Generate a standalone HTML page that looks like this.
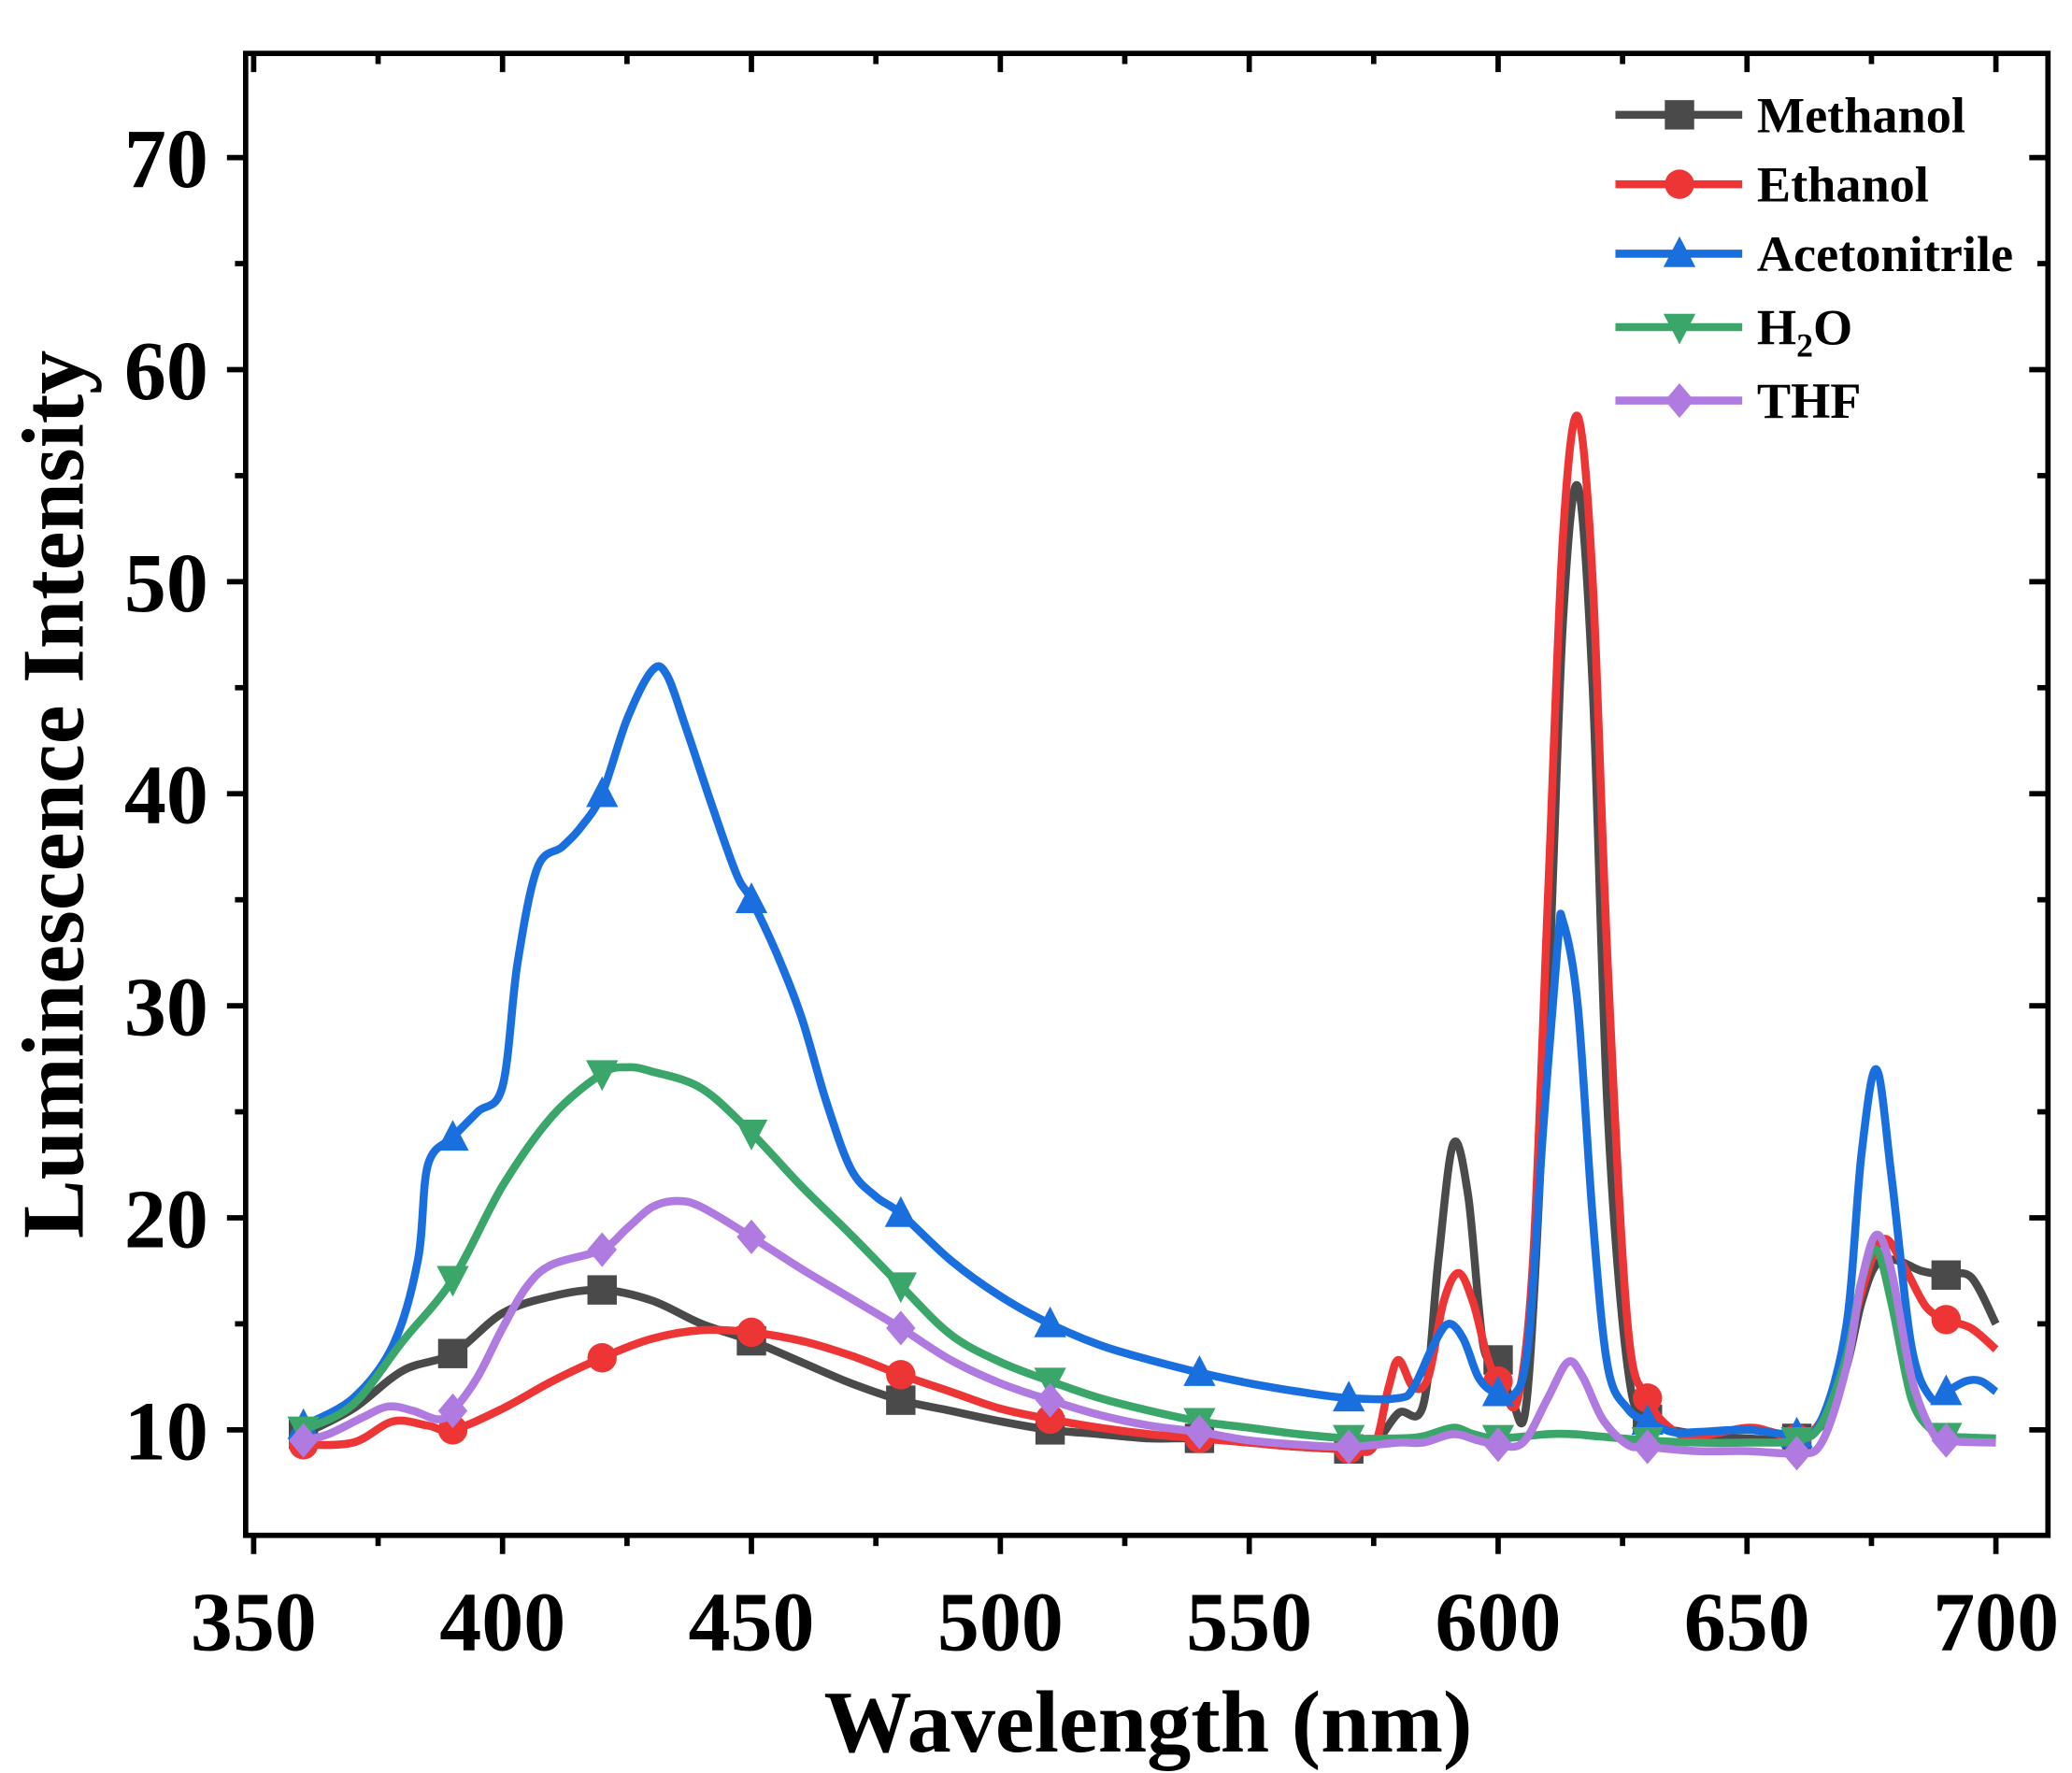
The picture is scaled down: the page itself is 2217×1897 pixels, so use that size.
<!DOCTYPE html>
<html><head><meta charset="utf-8"><style>
html,body{margin:0;padding:0;background:#fff;}
svg{display:block;}
text{font-family:"Liberation Serif",serif;font-weight:bold;fill:#000;}
</style></head><body>
<svg id="s" width="2217" height="1897" viewBox="0 0 1552 1328" preserveAspectRatio="none" xmlns="http://www.w3.org/2000/svg"></svg>
<script>
const S=document.getElementById('s');
const X=v=>190+(v-350)*3.7286, Y=v=>1071-(v-10)*15.883;
let h='';
function P(s){return s.trim().split(/,\s*/).map(p=>p.trim().split(/\s+/).map(Number));}
const series=[
['#4a4a4a','sq',P(`360 9.8, 370 11, 380 12.8, 390 13.6, 400 15.5, 410 16.3, 420 16.6, 430 16.1, 440 15, 450 14.2, 460 13.2, 470 12.2, 480 11.4, 490 10.9, 500 10.4, 510 10, 520 9.8, 530 9.6, 540 9.6, 550 9.4, 560 9.2, 570 9.1, 575 9.3, 580 10.8, 585 11.2, 588 18, 591 23.5, 594 21, 597 14, 600 13.3, 603 11.2, 606 12, 610 30, 613 48, 616 54.5, 619 45, 622 25, 626 13, 630 10.5, 640 9.8, 650 9.6, 660 9.6, 666 10.5, 670 13, 673 16, 676 17.8, 680 18, 685 17.5, 690 17.3, 695 17.2, 700 15`)],
['#ee3535','ci',P(`360 9.3, 370 9.4, 378 10.4, 385 10.2, 390 10, 400 11, 410 12.3, 420 13.4, 430 14.3, 440 14.7, 450 14.6, 460 14.2, 470 13.5, 480 12.6, 490 11.8, 500 11, 510 10.5, 520 10.1, 530 9.8, 540 9.6, 550 9.4, 560 9.2, 570 9.1, 575 9.2, 578 12, 580 13.3, 583 12, 586 12.5, 589 16, 592 17.4, 595 16, 598 13.3, 601 11.8, 604 11.5, 607 18, 610 35, 613 52, 616 57.8, 619 50, 622 32, 626 15, 630 11.5, 635 10, 640 9.7, 650 10.1, 655 9.9, 660 9.6, 665 10.5, 670 14, 675 18, 678 19, 682 17.5, 686 15.8, 690 15.2, 695 14.8, 700 13.8`)],
['#1a6fdf','tu',P(`360 10.2, 370 11.5, 378 14, 383 18, 385 22.5, 390 23.8, 395 25, 400 26.2, 403 32, 407 36.5, 412 37.5, 416 38.5, 420 40, 425 43.5, 430 45.8, 433 45.6, 437 43, 442 39.5, 447 36.2, 450 35, 455 32.5, 460 29.5, 465 25.5, 470 22.3, 475 21, 480 20.2, 490 18, 500 16.3, 510 15, 520 14, 530 13.3, 540 12.7, 550 12.2, 560 11.8, 570 11.5, 580 11.5, 583 12, 587 14, 590 15, 593 14.3, 596 12.5, 599 11.8, 603 11.6, 606 14, 609 24, 612 33, 613 34, 616 30, 619 20, 622 13, 626 11, 630 10.4, 635 9.9, 640 9.9, 650 10, 660 9.8, 665 10.5, 670 15, 673 23, 676 27, 679 22, 683 14, 687 11.5, 690 11.8, 694 12.3, 697 12.3, 700 11.8`)],
['#3aa66a','td',P(`360 10, 370 11.2, 380 14.2, 390 17.1, 400 21.5, 410 24.8, 420 26.8, 425 27.1, 430 26.9, 440 26.1, 450 24, 460 21.5, 470 19.2, 480 16.8, 490 14.5, 500 13.2, 510 12.3, 520 11.5, 530 10.9, 540 10.4, 550 10.1, 560 9.8, 570 9.6, 580 9.6, 585 9.7, 591 10.1, 595 9.8, 600 9.6, 610 9.8, 615 9.8, 620 9.7, 630 9.5, 640 9.4, 650 9.4, 660 9.5, 665 10.3, 670 13.5, 673 17, 676 18.5, 679 16, 683 11.5, 687 10, 690 9.7, 700 9.6`)],
['#b07be0','di',P(`360 9.5, 365 9.8, 372 10.6, 377 11.1, 382 10.9, 387 10.5, 390 10.9, 395 12.5, 400 14.8, 405 16.8, 410 17.8, 420 18.5, 425 19.5, 430 20.5, 435 20.8, 440 20.5, 450 19.1, 460 17.6, 470 16.2, 480 14.8, 490 13.3, 500 12.2, 510 11.4, 520 10.7, 530 10.2, 540 9.9, 550 9.5, 560 9.3, 570 9.2, 580 9.4, 585 9.4, 591 9.8, 596 9.5, 600 9.3, 605 9.4, 610 11.5, 614 13.2, 617 12.5, 621 10.5, 626 9.3, 630 9.2, 640 9, 650 9, 660 8.9, 665 9.4, 670 13, 673 17, 676 19.2, 679 17.5, 683 12.5, 687 10, 690 9.5, 700 9.4`)]
];
function path(pts){
 const p=pts.map(([a,b])=>[X(a),Y(b)]);
 let d='M'+p[0][0].toFixed(1)+','+p[0][1].toFixed(1);
 for(let i=0;i<p.length-1;i++){
  const p0=p[i-1]||p[i],p1=p[i],p2=p[i+1],p3=p[i+2]||p[i+1];
  const c1=[p1[0]+(p2[0]-p0[0])/6,p1[1]+(p2[1]-p0[1])/6];
  const c2=[p2[0]-(p3[0]-p1[0])/6,p2[1]-(p3[1]-p1[1])/6];
  d+=`C${c1[0].toFixed(1)},${c1[1].toFixed(1)} ${c2[0].toFixed(1)},${c2[1].toFixed(1)} ${p2[0].toFixed(1)},${p2[1].toFixed(1)}`;
 }
 return d;
}
function interp(pts,x){for(let i=0;i<pts.length-1;i++){if(x>=pts[i][0]&&x<=pts[i+1][0]){const t=(x-pts[i][0])/(pts[i+1][0]-pts[i][0]);return pts[i][1]+t*(pts[i+1][1]-pts[i][1]);}}return pts[pts.length-1][1];}
function mk(t,x,y,c){const r=11;
 if(t=='sq')return `<rect x="${x-r}" y="${y-r}" width="${2*r}" height="${2*r}" fill="${c}"/>`;
 if(t=='ci')return `<circle cx="${x}" cy="${y}" r="${r}" fill="${c}"/>`;
 if(t=='tu')return `<polygon points="${x},${y-r-2} ${x+r+1},${y+r-1} ${x-r-1},${y+r-1}" fill="${c}"/>`;
 if(t=='td')return `<polygon points="${x},${y+r+2} ${x+r+1},${y-r+1} ${x-r-1},${y-r+1}" fill="${c}"/>`;
 return `<polygon points="${x},${y-r-2} ${x+r},${y} ${x},${y+r+2} ${x-r},${y}" fill="${c}"/>`;
}
for(const [c,t,pts] of series){
 h+=`<path d="${path(pts)}" fill="none" stroke="${c}" stroke-width="6" stroke-linejoin="round"/>`;
 for(let x=360;x<=690;x+=30)h+=mk(t,X(x),Y(interp(pts,x)),c);
}
const L=184,R=1534,T=40,B=1150;
h+=`<rect x="${L}" y="${T}" width="${R-L}" height="${B-T}" fill="none" stroke="#000" stroke-width="4"/>`;
for(let v=350;v<=700;v+=25){const x=X(v),len=v%50==0?14:8;
 h+=`<line x1="${x}" y1="${B}" x2="${x}" y2="${B+len}" stroke="#000" stroke-width="4"/><line x1="${x}" y1="${T}" x2="${x}" y2="${T+len}" stroke="#000" stroke-width="4"/>`;
 if(v%50==0)h+=`<text x="${x}" y="1236" font-size="63" text-anchor="middle">${v}</text>`;}
for(let v=10;v<=70;v+=5){const y=Y(v),len=v%10==0?14:8;
 h+=`<line x1="${L}" y1="${y}" x2="${L-len}" y2="${y}" stroke="#000" stroke-width="4"/><line x1="${R}" y1="${y}" x2="${R-len}" y2="${y}" stroke="#000" stroke-width="4"/>`;
 if(v%10==0)h+=`<text x="156" y="${y+22}" font-size="63" text-anchor="end">${v}</text>`;}
h+=`<text x="860" y="1312" font-size="66" text-anchor="middle">Wavelength (nm)</text>`;
h+=`<text transform="translate(62,595) rotate(-90)" font-size="66" text-anchor="middle">Luminescence Intensity</text>`;
const names=['Methanol','Ethanol','Acetonitrile','H<tspan font-size="25" dy="9">2</tspan><tspan dy="-9">O</tspan>','THF'];
const ly=[86,138,190,245,300];
series.forEach(([c,t],i)=>{const y=ly[i];
 h+=`<line x1="1210" y1="${y}" x2="1305" y2="${y}" stroke="${c}" stroke-width="6"/>`+mk(t,1258,y,c)+`<text x="1316" y="${y+13}" font-size="38">${names[i]}</text>`;});
S.innerHTML=h;
</script>
</body></html>
